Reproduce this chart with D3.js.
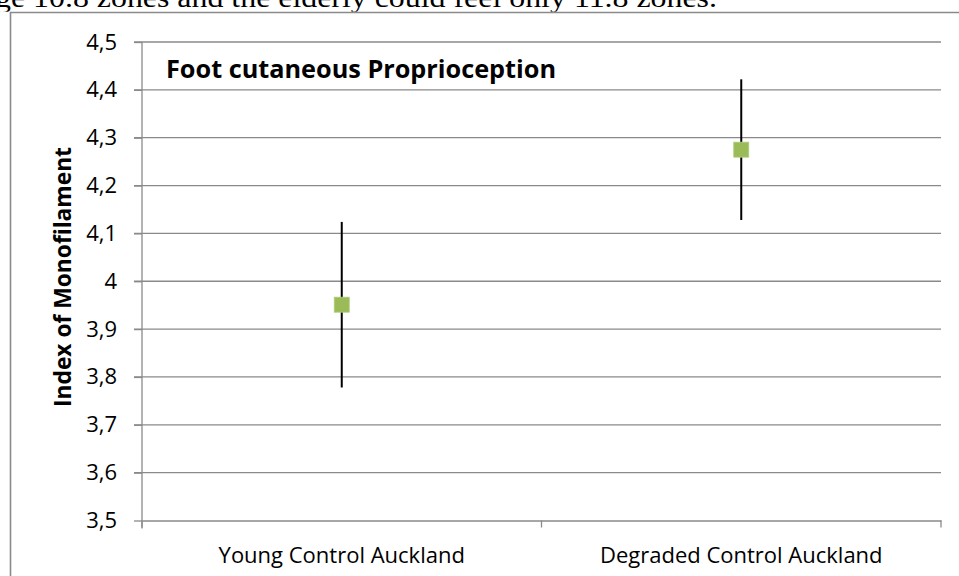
<!DOCTYPE html>
<html><head><meta charset="utf-8">
<script src="https://cdn.jsdelivr.net/npm/d3@7"></script>
<style>body{margin:0;background:#fff;}svg{display:block;}</style>
</head><body>
<svg id="c" width="959" height="576"></svg>
<script>
const categories = ["Young Control Auckland", "Degraded Control Auckland"];
const means = [3.951, 4.275];
const errors = [0.173, 0.147];
const yTicks = [3.5, 3.6, 3.7, 3.8, 3.9, 4.0, 4.1, 4.2, 4.3, 4.4, 4.5];
const yTickLabels = ["3,5","3,6","3,7","3,8","3,9","4","4,1","4,2","4,3","4,4","4,5"];
const title = "Foot cutaneous Proprioception";
const yTitle = "Index of Monofilament";
const aboveText = "ge 10.8 zones and the elderly could feel only 11.8 zones.";

(function () {
const svg = d3.select("#c");
const font = "Open Sans, Lato, sans-serif";
const pL = 142, pR = 941, pT = 42, pB = 520.5;
const grey = "#8a8a8a";

svg.append("text").attr("x", -5).attr("y", 7)
  .attr("font-family", "Liberation Serif, Times New Roman, serif").attr("font-size", 28)
  .attr("textLength", 722).attr("lengthAdjust", "spacingAndGlyphs")
  .attr("fill", "#000").text(aboveText);

svg.append("rect").attr("x", 0).attr("y", 11.7).attr("width", 959).attr("height", 564).attr("fill", "#fff");
svg.append("path").attr("d", `M10.5,${590} V12.5 H${980}`)
  .attr("fill", "none").attr("stroke", grey).attr("stroke-width", 1.6);

const x = d3.scaleBand().domain(categories).range([pL, pR]);
const y = d3.scaleLinear().domain([3.5, 4.5]).range([pB, pT]);

svg.append("g").selectAll("line").data(yTicks.filter(d => d > 3.5)).join("line")
  .attr("x1", pL - 8).attr("x2", pR)
  .attr("y1", d => y(d)).attr("y2", d => y(d))
  .attr("stroke", grey).attr("stroke-width", 1.3);

const yAxis = d3.axisLeft(y).tickValues(yTicks).tickSize(8)
  .tickFormat((d, i) => yTickLabels[i]).tickPadding(17);
const gy = svg.append("g").attr("transform", `translate(${pL},0)`).call(yAxis);
gy.select(".domain").attr("stroke", grey).attr("stroke-width", 1.3).attr("d", `M0,${pT}V${pB + 8}`);
gy.selectAll(".tick line").attr("stroke", grey).attr("stroke-width", 1.3);
gy.selectAll(".tick text").attr("font-family", font).attr("font-size", 22).attr("fill", "#000");

const xAxis = d3.axisBottom(x).tickSize(0).tickPadding(27);
const gx = svg.append("g").attr("transform", `translate(0,${pB})`).call(xAxis);
gx.select(".domain").attr("stroke", grey).attr("stroke-width", 1.3);
gx.selectAll(".tick text").attr("font-family", font).attr("font-size", 22).attr("fill", "#000");
svg.append("g").selectAll("line").data([0, 1, 2]).join("line")
  .attr("x1", i => pL + i * x.step()).attr("x2", i => pL + i * x.step())
  .attr("y1", pB).attr("y2", pB + 7)
  .attr("stroke", grey).attr("stroke-width", 1.3);

const cx = d => x(d) + x.bandwidth() / 2;
svg.append("g").selectAll("line").data(categories).join("line")
  .attr("x1", cx).attr("x2", cx)
  .attr("y1", (d, i) => y(means[i] + errors[i])).attr("y2", (d, i) => y(means[i] - errors[i]))
  .attr("stroke", "#000").attr("stroke-width", 2);

const s = 15;
svg.append("g").selectAll("rect").data(categories).join("rect")
  .attr("x", d => cx(d) - s / 2).attr("y", (d, i) => y(means[i]) - s / 2)
  .attr("width", s).attr("height", s)
  .attr("fill", "#9BBB59").attr("stroke", "#b0cc7c").attr("stroke-width", 0.8);

svg.append("text").attr("x", 166).attr("y", 78)
  .attr("font-family", font).attr("font-size", 25).attr("font-weight", "bold")
  .attr("textLength", 390).attr("lengthAdjust", "spacingAndGlyphs")
  .attr("fill", "#000").text(title);

svg.append("text").attr("transform", `translate(71,277) rotate(-90)`)
  .attr("text-anchor", "middle")
  .attr("font-family", font).attr("font-size", 23).attr("font-weight", "bold")
  .attr("textLength", 260).attr("lengthAdjust", "spacingAndGlyphs")
  .attr("fill", "#000").text(yTitle);
})();
</script>
</body></html>
